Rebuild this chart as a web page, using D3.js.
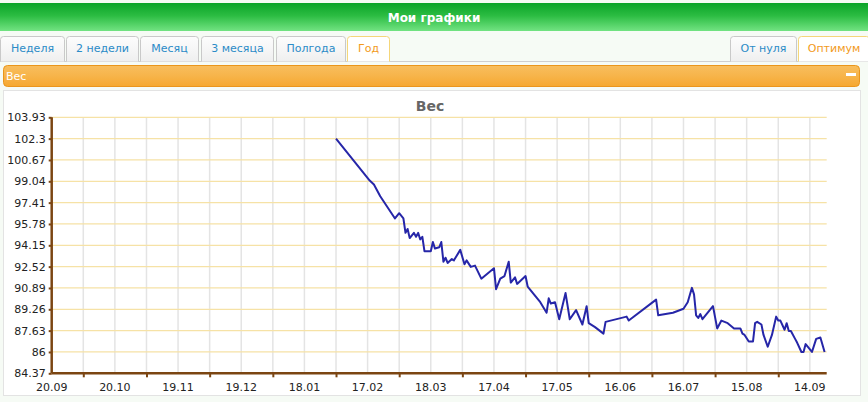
<!DOCTYPE html>
<html>
<head>
<meta charset="utf-8">
<script src="https://cdn.jsdelivr.net/npm/d3@7/dist/d3.min.js"></script>
<style>
  html, body { margin: 0; padding: 0; background: #f6fbf5; }
  svg { display: block; font-family: "DejaVu Sans", Verdana, sans-serif; }
</style>
</head>
<body>
<svg id="c" width="868" height="402"></svg>
<script>
// ---- data ----
const dates = ["2012-02-02","2012-02-18","2012-02-20","2012-02-23","2012-03-01","2012-03-03","2012-03-05","2012-03-06","2012-03-07","2012-03-08",
  "2012-03-10","2012-03-11","2012-03-12","2012-03-13","2012-03-14","2012-03-15","2012-03-18","2012-03-19","2012-03-20","2012-03-22",
  "2012-03-23","2012-03-24","2012-03-25","2012-03-26","2012-03-28","2012-03-29","2012-04-01","2012-04-03","2012-04-04","2012-04-06",
  "2012-04-08","2012-04-11","2012-04-17","2012-04-18","2012-04-20","2012-04-22","2012-04-24","2012-04-25","2012-04-27","2012-04-28",
  "2012-05-02","2012-05-03","2012-05-09","2012-05-12","2012-05-13","2012-05-14","2012-05-16","2012-05-18","2012-05-21","2012-05-23",
  "2012-05-26","2012-05-29","2012-05-31","2012-06-01","2012-06-04","2012-06-08","2012-06-09","2012-06-19","2012-06-20","2012-07-03",
  "2012-07-04","2012-07-11","2012-07-16","2012-07-18","2012-07-20","2012-07-21","2012-07-22","2012-07-23","2012-07-24","2012-07-25",
  "2012-07-30","2012-08-01","2012-08-03","2012-08-06","2012-08-09","2012-08-12","2012-08-13","2012-08-14","2012-08-16","2012-08-18",
  "2012-08-19","2012-08-20","2012-08-22","2012-08-23","2012-08-25","2012-08-27","2012-08-29","2012-08-30","2012-08-31","2012-09-02",
  "2012-09-03","2012-09-04","2012-09-05","2012-09-07","2012-09-08","2012-09-10","2012-09-11","2012-09-12","2012-09-15","2012-09-17",
  "2012-09-19","2012-09-21"];
const weights = [102.3,99.1,98.8,97.9,96.2,96.6,96.2,95.1,95.4,94.7,
  95.1,94.8,95.1,94.6,94.8,93.7,93.7,94.4,93.9,94.0,
  94.4,92.9,93.2,92.8,93.1,93.0,93.8,92.7,93.0,92.5,
  92.6,91.6,92.4,90.8,91.6,91.8,92.9,91.3,91.7,91.2,
  91.8,91.0,89.8,89.0,90.1,89.7,89.8,88.5,90.5,88.5,
  89.2,88.1,89.5,88.2,87.9,87.4,88.3,88.7,88.4,90.0,
  88.8,89.0,89.3,89.8,90.9,90.4,88.8,88.6,88.9,88.5,
  89.5,87.8,88.4,88.2,87.8,87.8,87.4,87.3,86.8,86.8,
  88.2,88.3,88.1,87.3,86.4,87.3,88.7,88.4,88.4,87.7,
  88.2,87.6,87.6,87.0,86.7,86.0,86.0,86.6,86.0,87.0,
  87.1,86.0];
const yTicks = [84.37,86,87.63,89.26,90.89,92.52,94.15,95.78,97.41,99.04,100.67,102.3,103.93];
const xTickDates = ["2011-09-20","2011-10-20","2011-11-19","2011-12-19","2012-01-18","2012-02-17","2012-03-18",
  "2012-04-17","2012-05-17","2012-06-16","2012-07-16","2012-08-15","2012-09-14"];
const xTickLabels = ["20.09","20.10","19.11","19.12","18.01","17.02","18.03","17.04","17.05","16.06","16.07","15.08","14.09"];
const xMinorDates = ["2011-10-05","2011-11-04","2011-12-04","2012-01-03","2012-02-02","2012-03-03","2012-04-02",
  "2012-05-02","2012-06-01","2012-07-01","2012-07-31","2012-08-30"];
const xDomain = ["2011-09-20","2012-09-22"];
const tabsLeft = ["Неделя","2 недели","Месяц","3 месяца","Полгода","Год"];
const tabsRight = ["От нуля","Оптимум"];

// ---- page chrome ----
const parse = d3.timeParse("%Y-%m-%d");
const svg = d3.select("#c");
const defs = svg.append("defs");
function grad(id, stops) {
  const g = defs.append("linearGradient").attr("id", id).attr("x1",0).attr("y1",0).attr("x2",0).attr("y2",1);
  stops.forEach(s => g.append("stop").attr("offset", s[0]).attr("stop-color", s[1]));
}
grad("gGreen", [[0,"#0ba428"],[0.45,"#2bbc42"],[1,"#72e382"]]);
grad("gTab", [[0,"#fdfdfd"],[1,"#efefef"]]);
grad("gOrange", [[0,"#f8be5e"],[0.5,"#f7b44a"],[1,"#f6a82e"]]);

svg.append("rect").attr("width",868).attr("height",402).attr("fill","#f6fbf5");
svg.append("rect").attr("x",0).attr("y",3).attr("width",868).attr("height",28).attr("fill","url(#gGreen)");
svg.append("text").attr("x",434).attr("y",22).attr("text-anchor","middle")
  .attr("fill","#fff").attr("font-weight","bold").attr("font-size",12).text("Мои графики");

// tabs
const leftX = [0,66,140,201,276,347], leftW = [65,73,59,73,70,43];
const rightX = [730,798], rightW = [67,72];
svg.append("line").attr("x1",0).attr("x2",868).attr("y1",61.5).attr("y2",61.5).attr("stroke","#cfcfcf");
function tab(x, w, label, active) {
  const g = svg.append("g");
  g.append("path")
    .attr("d", `M${x+0.5},61.5 V${39.5} Q${x+0.5},36.5 ${x+3.5},36.5 H${x+w-3.5} Q${x+w-0.5},36.5 ${x+w-0.5},39.5 V61.5`)
    .attr("fill", active ? "#ffffff" : "url(#gTab)")
    .attr("stroke", active ? "#f5d679" : "#c9c9c9");
  g.append("text").attr("x", x + w/2).attr("y", 52).attr("text-anchor","middle")
    .attr("font-size", 11).attr("fill", active ? "#f29a1c" : "#2b8bc7").text(label);
}
tabsLeft.forEach((t,i) => tab(leftX[i], leftW[i], t, i === tabsLeft.length - 1));
tabsRight.forEach((t,i) => tab(rightX[i], rightW[i], t, i === 1));

// orange panel header
svg.append("rect").attr("x",3.5).attr("y",65.5).attr("width",856).attr("height",21).attr("rx",4)
  .attr("fill","url(#gOrange)").attr("stroke","#ea961c");
svg.append("text").attr("x",6).attr("y",80).attr("fill","#fff").attr("font-size",11).text("Вес");
svg.append("rect").attr("x",846).attr("y",73).attr("width",10).attr("height",3).attr("fill","#fff");

// content panel
svg.append("rect").attr("x",3.5).attr("y",90.5).attr("width",857).attr("height",305).attr("fill","#ffffff")
  .attr("stroke","#e3e3e3");
svg.append("text").attr("x",430).attr("y",111).attr("text-anchor","middle").attr("fill","#666")
  .attr("font-weight","bold").attr("font-size",14).text("Вес");

// ---- chart ----
const x = d3.scaleTime().domain(xDomain.map(parse)).range([51.7, 826.7]);
const y = d3.scaleLinear().domain([84.37, 103.93]).range([373.3, 117.3]);

const grid = svg.append("g");
xTickDates.concat(xMinorDates).forEach(d => {
  const px = x(parse(d));
  if (px < 53) return;
  grid.append("line").attr("x1",px).attr("x2",px).attr("y1",117.3).attr("y2",373.3)
    .attr("stroke","#e4e4e4").attr("stroke-width",1.5);
});
yTicks.forEach(v => {
  if (v === yTicks[0]) return;
  grid.append("line").attr("x1",52).attr("x2",826.7).attr("y1",y(v)).attr("y2",y(v))
    .attr("stroke","#f6e2a6").attr("stroke-width",1.2);
});

// axes
const axisColor = "#7b4512";
const yAxis = svg.append("g").attr("transform","translate(51.7,0)")
  .call(d3.axisLeft(y).tickValues(yTicks).tickSize(3).tickPadding(3).tickFormat(d => String(d)));
const xAxis = svg.append("g").attr("transform","translate(0,373.3)")
  .call(d3.axisBottom(x).tickValues(xMinorDates.map(parse)).tickSize(4).tickFormat(""));
[yAxis, xAxis].forEach(a => {
  a.select(".domain").attr("stroke", axisColor).attr("stroke-width", 2.5);
  a.selectAll(".tick line").attr("stroke", axisColor).attr("stroke-width", 2);
});
yAxis.select(".domain").attr("d","M0,117.3V373.3");
xAxis.select(".domain").attr("d","M51.7,0H826.7");
yAxis.selectAll("text").attr("font-size",11).attr("fill","#222").attr("font-family","DejaVu Sans, Verdana, sans-serif");

const xl = svg.append("g");
xTickDates.forEach((d,i) => {
  xl.append("text").attr("x", x(parse(d))).attr("y", 391).attr("text-anchor","middle")
    .attr("font-size",11).attr("fill","#222").text(xTickLabels[i]);
});

// line
const pts = dates.map((d,i) => ({date: parse(d), v: weights[i]}));
const line = d3.line().x(d => x(d.date)).y(d => y(d.v));
svg.append("path").datum(pts).attr("d", line).attr("fill","none")
  .attr("stroke","#2626a8").attr("stroke-width",2).attr("stroke-linejoin","round");
</script>
</body>
</html>
